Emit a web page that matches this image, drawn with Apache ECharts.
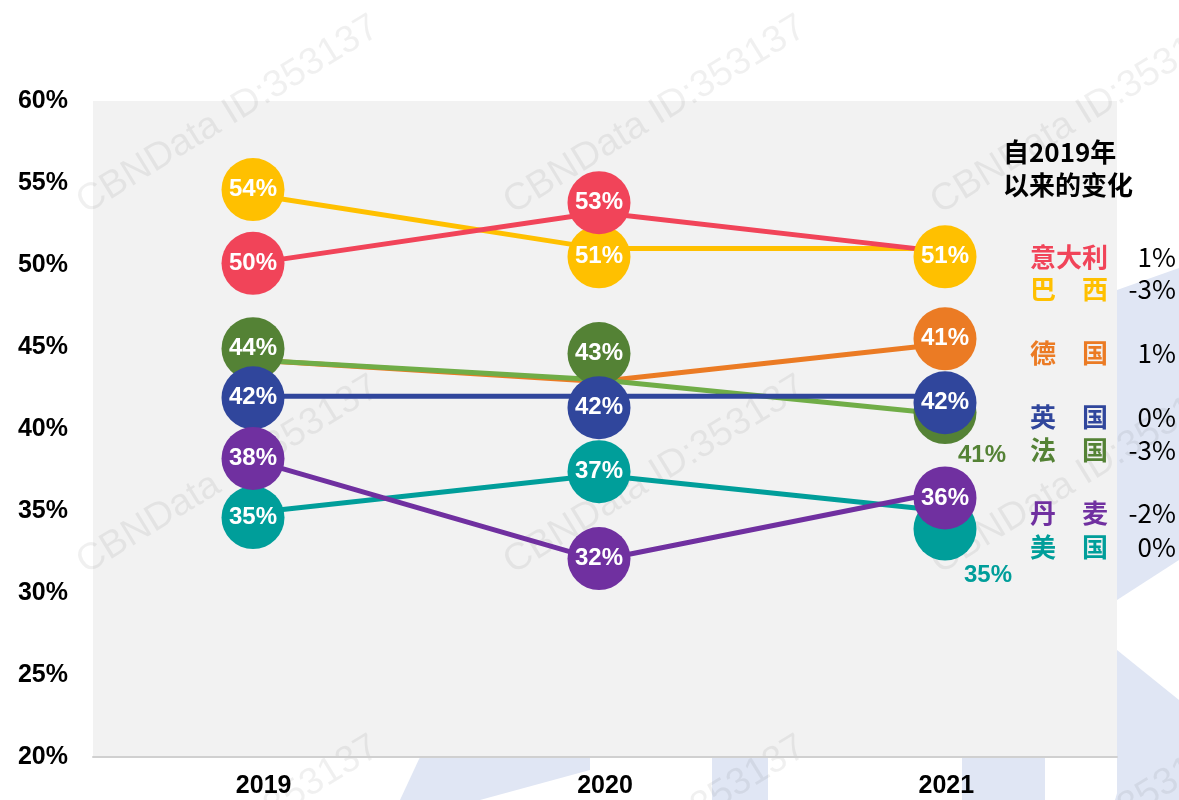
<!DOCTYPE html>
<html>
<head>
<meta charset="utf-8">
<script src="https://cdn.jsdelivr.net/npm/echarts@6/dist/echarts.min.js"></script>
<style>
  html, body { margin: 0; padding: 0; background: #fff; }
  #chart { width: 1179px; height: 800px; }
</style>
</head>
<body>
<div id="chart"></div>
<script>
const years = ['2019', '2020', '2021']
const countries = ['意大利', '巴西', '德国', '英国', '法国', '丹麦', '美国']
const changes = ['1%', '-3%', '1%', '0%', '-3%', '-2%', '0%']

// line values (%)
const italyLine = [50.1, 53.2, 50.8]
const brazilLine = [54.3, 51.0, 51.0]
const germanyLine = [44.2, 42.9, 45.2]
const ukLine = [42.0, 42.0, 42.0]
const franceLine = [44.2, 43.0, 40.9]
const denmarkLine = [38.1, 32.0, 36.2]
const usaLine = [34.9, 37.2, 35.0]

// bubble centres (%) and the text printed on them
const italyBubble = [50.1, 53.8, null]
const brazilBubble = [54.6, 50.5, 50.5]
const germanyBubble = [null, null, 45.5]
const ukBubble = [41.9, 41.3, 41.6]
const franceBubble = [44.9, 44.6, 41.0]
const denmarkBubble = [38.2, 32.1, 35.8]
const usaBubble = [34.6, 37.4, 33.9]

const italyLabel = ['50%', '53%', '']
const brazilLabel = ['54%', '51%', '51%']
const germanyLabel = ['', '', '41%']
const ukLabel = ['42%', '42%', '42%']
const franceLabel = ['44%', '43%', '41%']
const denmarkLabel = ['38%', '32%', '36%']
const usaLabel = ['35%', '37%', '35%']

const yTicks = [20, 25, 30, 35, 40, 45, 50, 55, 60]

const colors = {
  italy: '#f14459',
  brazil: '#ffc000',
  germany: '#eb7b24',
  uk: '#30469c',
  france: '#548235',
  franceLine: '#70ad47',
  denmark: '#7030a0',
  usa: '#009e9a'
}

const latin = 'Liberation Sans, Arial, sans-serif'
const cjk = '"Noto Sans CJK SC", sans-serif'

const chart = echarts.init(document.getElementById('chart'))

function lineSeries(name, data, color) {
  return {
    name: name,
    type: 'line',
    xAxisIndex: 1,
    yAxisIndex: 1,
    data: data,
    showSymbol: false,
    symbol: 'none',
    z: 2,
    silent: true,
    lineStyle: { color: color, width: 5 }
  }
}

function bubbleSeries(name, data, labels, color, outside) {
  return {
    name: name,
    type: 'scatter',
    xAxisIndex: 1,
    yAxisIndex: 1,
    symbolSize: 63,
    z: 3,
    silent: true,
    itemStyle: { color: color, opacity: 1 },
    data: data.map((v, i) => {
      const item = { value: v === null ? '-' : v }
      if (outside && outside[i]) {
        item.label = { offset: outside[i], color: color, fontSize: 24 }
      }
      return item
    }),
    label: {
      show: true,
      position: 'inside',
      color: '#fff',
      fontSize: 24,
      fontWeight: 'bold',
      fontFamily: latin,
      formatter: p => labels[p.dataIndex]
    }
  }
}

const legendColors = [colors.italy, colors.brazil, colors.germany, colors.uk, colors.france, colors.denmark, colors.usa]
const legendY = [257, 289, 353, 417, 450, 513, 547]

const graphics = []

// faint logo shapes behind the chart
const logoShapes = [
  [[1117, 290], [1179, 268], [1179, 560], [1117, 600]],
  [[1117, 650], [1179, 700], [1179, 800], [1117, 800]],
  [[420, 757], [590, 757], [590, 770], [480, 800], [400, 800]],
  [[712, 757], [768, 757], [768, 800], [712, 800]],
  [[962, 757], [1045, 757], [1045, 800], [962, 800]],
  [[1128, 757], [1165, 757], [1150, 800], [1115, 800]]
]
logoShapes.forEach(pts => {
  graphics.push({ type: 'polygon', z: -10, silent: true, shape: { points: pts }, style: { fill: '#e0e6f4' } })
})

graphics.push({
  type: 'rect', z: -5, silent: true,
  shape: { x: 93, y: 101, width: 1024, height: 656 },
  style: { fill: '#f2f2f2' }
})

// watermarks
;[115, 475, 835].forEach(cy => {
  [228, 655, 1082].forEach(cx => {
    graphics.push({
      type: 'text', z: -1, silent: true,
      x: cx, y: cy, rotation: 0.55,
      style: {
        text: 'CBNData ID:353137',
        fontSize: 38,
        fontFamily: latin,
        fill: 'rgba(0,0,0,0.06)',
        align: 'center',
        verticalAlign: 'middle'
      }
    })
  })
})

graphics.push({
  type: 'text', z: 10, x: 1003, y: 152,
  style: { text: '自2019年', font: 'bold 26px ' + cjk, fill: '#000', verticalAlign: 'middle' }
})
graphics.push({
  type: 'text', z: 10, x: 1003, y: 185,
  style: { text: '以来的变化', font: 'bold 26px ' + cjk, fill: '#000', verticalAlign: 'middle' }
})

countries.forEach((c, i) => {
  const name = c.length === 2 ? c[0] + '\u3000' + c[1] : c
  graphics.push({
    type: 'text', z: 10, x: 1030, y: legendY[i],
    style: { text: name, font: 'bold 26px ' + cjk, fill: legendColors[i], verticalAlign: 'middle' }
  })
  graphics.push({
    type: 'text', z: 10, x: 1176, y: legendY[i],
    style: { text: changes[i], font: '26px ' + cjk, fill: '#000', align: 'right', verticalAlign: 'middle' }
  })
})

chart.setOption({
  animation: false,
  backgroundColor: '#fff',
  grid: [
    { left: 93, right: 62, top: 101, bottom: 43 },
    { left: 80, right: 61, top: 101, bottom: 43 }
  ],
  xAxis: [{
    type: 'category',
    gridIndex: 0,
    data: years,
    axisTick: { show: false },
    axisLine: { lineStyle: { color: '#d0d0d0', width: 2 } },
    axisLabel: {
      margin: 17,
      color: '#000',
      fontSize: 25,
      fontWeight: 'bold',
      fontFamily: latin
    }
  }, {
    type: 'category',
    gridIndex: 1,
    data: years,
    show: false
  }],
  yAxis: [{
    type: 'value',
    gridIndex: 0,
    min: yTicks[0],
    max: yTicks[yTicks.length - 1],
    interval: 5,
    splitLine: { show: false },
    axisLine: { show: false },
    axisTick: { show: false },
    axisLabel: {
      margin: 25,
      color: '#000',
      fontSize: 25,
      fontWeight: 'bold',
      fontFamily: latin,
      formatter: '{value}%'
    }
  }, {
    type: 'value',
    gridIndex: 1,
    min: yTicks[0],
    max: yTicks[yTicks.length - 1],
    show: false
  }],
  graphic: graphics,
  series: [
    lineSeries('德国', germanyLine, colors.germany),
    lineSeries('法国', franceLine, colors.franceLine),
    lineSeries('巴西', brazilLine, colors.brazil),
    lineSeries('意大利', italyLine, colors.italy),
    lineSeries('英国', ukLine, colors.uk),
    lineSeries('美国', usaLine, colors.usa),
    lineSeries('丹麦', denmarkLine, colors.denmark),
    bubbleSeries('巴西', brazilBubble, brazilLabel, colors.brazil),
    bubbleSeries('意大利', italyBubble, italyLabel, colors.italy),
    bubbleSeries('法国', franceBubble, franceLabel, colors.france, [null, null, [37, 43]]),
    bubbleSeries('德国', germanyBubble, germanyLabel, colors.germany),
    bubbleSeries('英国', ukBubble, ukLabel, colors.uk),
    bubbleSeries('美国', usaBubble, usaLabel, colors.usa, [null, null, [43, 46]]),
    bubbleSeries('丹麦', denmarkBubble, denmarkLabel, colors.denmark)
  ]
})
</script>
</body>
</html>
